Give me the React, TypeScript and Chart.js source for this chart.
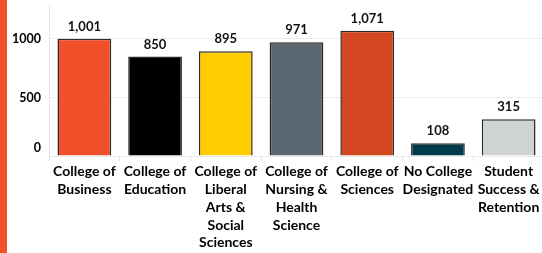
import React, { useEffect, useRef } from "react";
import { Chart, registerables } from "chart.js";

Chart.register(...registerables);

const categories: string[][] = [
  ["College of", "Business"],
  ["College of", "Education"],
  ["College of", "Liberal", "Arts &", "Social", "Sciences"],
  ["College of", "Nursing &", "Health", "Science"],
  ["College of", "Sciences"],
  ["No College", "Designated"],
  ["Student", "Success &", "Retention"],
];
const values: number[] = [1001, 850, 895, 971, 1071, 108, 315];
const barColors: string[] = ["#F1502B", "#000000", "#FFCD00", "#5A6770", "#D4461F", "#003B4C", "#D0D3D4"];
const yTicks: number[] = [0, 500, 1000];

const FONT = "Lato, 'Open Sans', sans-serif";

const dataLabels = {
  id: "dataLabels",
  afterDatasetsDraw(chart: any) {
    const ctx = chart.ctx;
    const meta = chart.getDatasetMeta(0);
    ctx.save();
    ctx.font = `bold 13px ${FONT}`;
    ctx.fillStyle = "#111";
    ctx.textAlign = "center";
    ctx.textBaseline = "alphabetic";
    meta.data.forEach((bar: any, i: number) => {
      ctx.fillText(values[i].toLocaleString("en-US"), bar.x, bar.y - 8);
    });
    // y axis labels (bottom label nudged up inside the plot, as in the reference)
    const y = chart.scales.y;
    ctx.font = `bold 12.5px ${FONT}`;
    ctx.fillStyle = "#000";
    ctx.textAlign = "right";
    ctx.textBaseline = "middle";
    yTicks.forEach((v) => {
      let py = y.getPixelForValue(v);
      if (v === 0) py -= 8;
      ctx.fillText(String(v), chart.chartArea.left - 8, py);
    });
    ctx.restore();
  },
};

export default function App() {
  const ref = useRef<HTMLCanvasElement>(null);
  useEffect(() => {
    if (!ref.current) return;
    const chart = new Chart(ref.current, {
      type: "bar",
      data: {
        labels: categories,
        datasets: [
          {
            data: values,
            backgroundColor: barColors,
            borderColor: "#2a2a2a",
            borderWidth: 1.5,
            barPercentage: 0.76,
            categoryPercentage: 1,
          },
        ],
      },
      options: {
        responsive: false,
        animation: false,
        layout: { padding: { top: 5, right: 2, left: 0, bottom: 0 } },
        plugins: { legend: { display: false }, tooltip: { enabled: false } },
        scales: {
          x: {
            offset: true,
            grid: { drawOnChartArea: false, tickLength: 5, color: "#dedede", offset: true },
            border: { display: false },
            ticks: {
              color: "#000",
              font: { family: FONT, size: 14, weight: "bold", lineHeight: 1.265 },
              maxRotation: 0,
              autoSkip: false,
              padding: 2,
            },
            afterFit(axis: any) {
              axis.height = 97;
            },
          },
          y: {
            min: 0,
            max: 1290,
            grid: { color: "#ececec", drawTicks: false },
            border: { color: "#e6e6e6" },
            ticks: {
              display: false,
            },
            afterBuildTicks(axis: any) {
              axis.ticks = yTicks.map((v) => ({ value: v }));
            },
            afterFit(axis: any) {
              axis.width = 49;
            },
          },
        },
      },
      plugins: [dataLabels],
    });
    return () => chart.destroy();
  }, []);
  return (
    <div style={{ position: "fixed", left: 0, top: 0, width: 542, height: 253, overflow: "hidden", background: "#fff" }}>
      <div style={{ position: "absolute", left: 0, top: 0, width: 546, height: 253 }}>
        <canvas ref={ref} width={546} height={253} style={{ display: "block" }} />
      </div>
      <div style={{ position: "absolute", left: 0, top: 0, width: 7, height: 253, background: "#F1502B", zIndex: 1 }} />
    </div>
  );
}
